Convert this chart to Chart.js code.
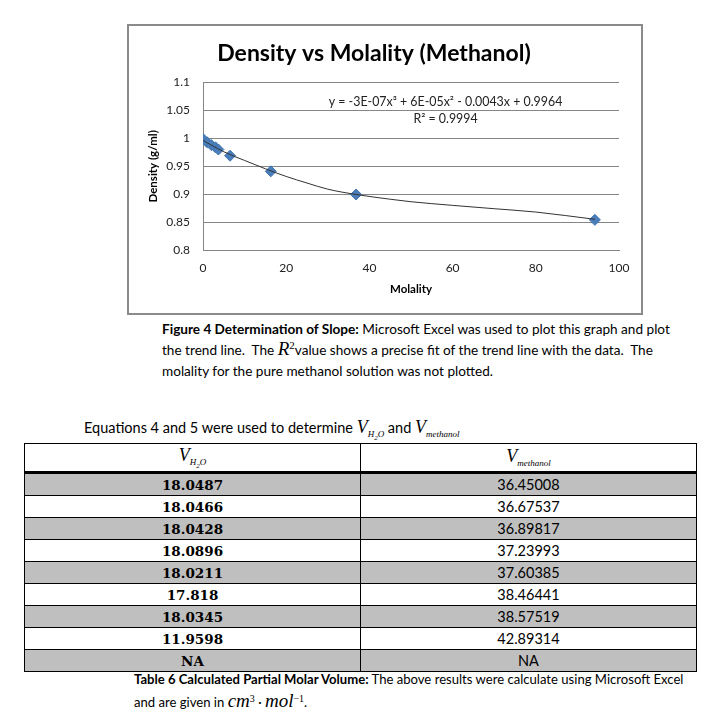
<!DOCTYPE html>
<html>
<head>
<meta charset="utf-8">
<script src="https://cdn.jsdelivr.net/npm/chart.js@4.4.1/dist/chart.umd.min.js"></script>
<style>
  body { margin: 0; background: #fff; width: 721px; height: 720px; position: relative; overflow: hidden; font-family: Lato, "Open Sans", sans-serif; color: #000; }
  #chartBox { position: absolute; left: 127px; top: 24px; width: 512px; height: 287px; border: 2px solid #8a8a8a; background: #fff; }
  #chartBox canvas { display: block; }
  .cap { position: absolute; font-size: 13.6px; line-height: 21px; white-space: nowrap; }
  .cap sup, .cap sub, .cap .math { line-height: 0; }
  .math { font-family: "Liberation Serif", "DejaVu Serif", serif; font-style: italic; }
  #figCap { left: 162px; top: 319px; }
  #eqLine { left: 84px; top: 417px; font-size: 14.5px; }
  #tblCap { left: 134px; top: 668px; line-height: 23px; font-size: 13.1px; }
  table { position: absolute; left: 24px; top: 443px; width: 673px; border-collapse: collapse; table-layout: fixed; }
  td, th { border: 1px solid #000; padding: 0; text-align: center; height: 21px; }
  th { height: 27px; font-weight: normal; border-bottom: 3px solid #000; }
  th span.math { font-size: 18px; }
  th sub.math { font-size: 9px; }
  th sub.math sub { font-size: 7px; }
  td.l { font-family: "DejaVu Serif", serif; font-weight: bold; font-size: 13.5px; }
  td.r { font-family: Lato, sans-serif; font-size: 14.5px; }
  tr.g td { background: #bfbfbf; }
</style>
</head>
<body>
<div id="chartBox"><canvas id="chart" width="512" height="287"></canvas></div>

<div class="cap" id="figCap"><b>Figure 4 Determination of Slope:</b> Microsoft Excel was used to plot this graph and plot<br>the trend line.&nbsp; The <span class="math" style="font-size:19px">R</span><sup style="font-family:'Liberation Serif',serif;font-size:11px">2</sup>value shows a precise fit of the trend line with the data.&nbsp; The<br>molality for the pure methanol solution was not plotted.</div>

<div class="cap" id="eqLine">Equations 4 and 5 were used to determine <span class="math" style="font-size:18px">V</span><sub class="math" style="font-size:9px">H<sub style="font-size:7px">2</sub>O</sub> and <span class="math" style="font-size:18px">V</span><sub class="math" style="font-size:9px">methanol</sub></div>

<table id="tbl">
  <thead><tr><th><span class="math">V</span><sub class="math">H<sub>2</sub>O</sub></th><th><span class="math">V</span><sub class="math">methanol</sub></th></tr></thead>
  <tbody id="tbody"></tbody>
</table>

<div class="cap" id="tblCap"><b>Table 6 Calculated Partial Molar Volume:</b> The above results were calculate using Microsoft Excel<br>and are given in <span class="math" style="font-size:19px">cm</span><sup style="font-family:'Liberation Serif',serif;font-size:10px">3</sup> &middot; <span class="math" style="font-size:19px">mol</span><sup style="font-family:'Liberation Serif',serif;font-size:10px">&minus;1</sup>.</div>

<script>
// measured points (molality, density g/ml)
const molality = [0, 1.0, 2.0, 3.0, 3.7, 6.5, 16.3, 36.8, 94.2];
const density = [0.999, 0.993, 0.988, 0.984, 0.980, 0.969, 0.941, 0.8995, 0.854];

// trend line
const trendX = [0, 2, 5, 10, 15, 20, 25, 30, 36.8, 45, 50, 60, 70, 80, 94.2];
const trendY = [0.9964, 0.988, 0.976, 0.9605, 0.9455, 0.9318, 0.920, 0.909, 0.8995, 0.891, 0.8865, 0.880, 0.874, 0.868, 0.855];

const xTicks = [0, 20, 40, 60, 80, 100];
const xTickLabels = ['0', '20', '40', '60', '80', '100'];
const yTicks = [0.8, 0.85, 0.9, 0.95, 1, 1.05, 1.1];
const yTickLabels = ['0.8', '0.85', '0.9', '0.95', '1', '1.05', '1.1'];

const trendEquation = 'y = -3E-07x³ + 6E-05x² - 0.0043x + 0.9964';
const trendR2 = 'R² = 0.9994';

// table values
const vWater = ['18.0487', '18.0466', '18.0428', '18.0896', '18.0211', '17.818', '18.0345', '11.9598', 'NA'];
const vMethanol = ['36.45008', '36.67537', '36.89817', '37.23993', '37.60385', '38.46441', '38.57519', '42.89314', 'NA'];

const tbody = document.getElementById('tbody');
vWater.forEach((w, i) => {
    const tr = document.createElement('tr');
    if (i % 2 === 0) tr.className = 'g';
    tr.innerHTML = `<td class="l">${w}</td><td class="r">${vMethanol[i]}</td>`;
    tbody.appendChild(tr);
});

const gridColor = '#868686';
const tickFont = { family: 'Lato', size: 12 };

const equationLabel = {
    id: 'equationLabel',
    afterDatasetsDraw(chart) {
        const { ctx, scales } = chart;
        const x = scales.x.getPixelForValue(58.3);
        ctx.save();
        ctx.fillStyle = '#222';
        ctx.font = '12.4px Lato';
        ctx.textAlign = 'center';
        ctx.textBaseline = 'middle';
        ctx.fillText(trendEquation, x, scales.y.getPixelForValue(1.066));
        ctx.fillText(trendR2, x, scales.y.getPixelForValue(1.035));
        ctx.restore();
    }
};

new Chart(document.getElementById('chart'), {
    type: 'scatter',
    data: {
        datasets: [
            {
                type: 'line',
                data: trendX.map((x, i) => ({ x, y: trendY[i] })),
                borderColor: '#333',
                borderWidth: 1,
                pointRadius: 0,
                cubicInterpolationMode: 'monotone',
                fill: false
            },
            {
                data: molality.map((x, i) => ({ x, y: density[i] })),
                pointStyle: 'rectRot',
                pointRadius: 5.5,
                backgroundColor: '#4a7ebb',
                borderColor: '#3f72ad',
                borderWidth: 1
            }
        ]
    },
    options: {
        responsive: false,
        animation: false,
        layout: { padding: { left: 0, right: 22, top: 0, bottom: 0 } },
        plugins: {
            legend: { display: false },
            tooltip: { enabled: false },
            title: {
                display: true,
                text: 'Density vs Molality (Methanol)',
                color: '#000',
                font: { family: 'Lato', size: 23, weight: 'bold' },
                padding: { top: 14, bottom: 15 }
            }
        },
        scales: {
            x: {
                type: 'linear',
                min: 0, max: 100,
                afterBuildTicks: s => { s.ticks = xTicks.map(v => ({ value: v })); },
                afterFit: s => { s.height = 63; },
                ticks: { callback: (v, i) => xTickLabels[i], color: '#222', font: tickFont, padding: 11, maxRotation: 0 },
                grid: { display: false, drawTicks: false },
                border: { color: gridColor, width: 1 },
                title: { display: true, text: 'Molality', color: '#000', font: { family: 'Lato', size: 11.5, weight: 'bold' }, padding: { top: 0, bottom: 17 } }
            },
            y: {
                min: 0.8, max: 1.1,
                afterBuildTicks: s => { s.ticks = yTicks.map(v => ({ value: v })); },
                afterFit: s => { s.width = 74; },
                ticks: { callback: (v, i) => yTickLabels[i], color: '#222', font: tickFont, padding: 13 },
                grid: { color: gridColor, drawTicks: false },
                border: { color: gridColor, width: 1 },
                title: { display: true, text: 'Density (g/ml)', color: '#000', font: { family: 'Lato', size: 11.5, weight: 'bold' }, padding: { top: 17, bottom: 0 } }
            }
        }
    },
    plugins: [equationLabel]
});
</script>
</body>
</html>
